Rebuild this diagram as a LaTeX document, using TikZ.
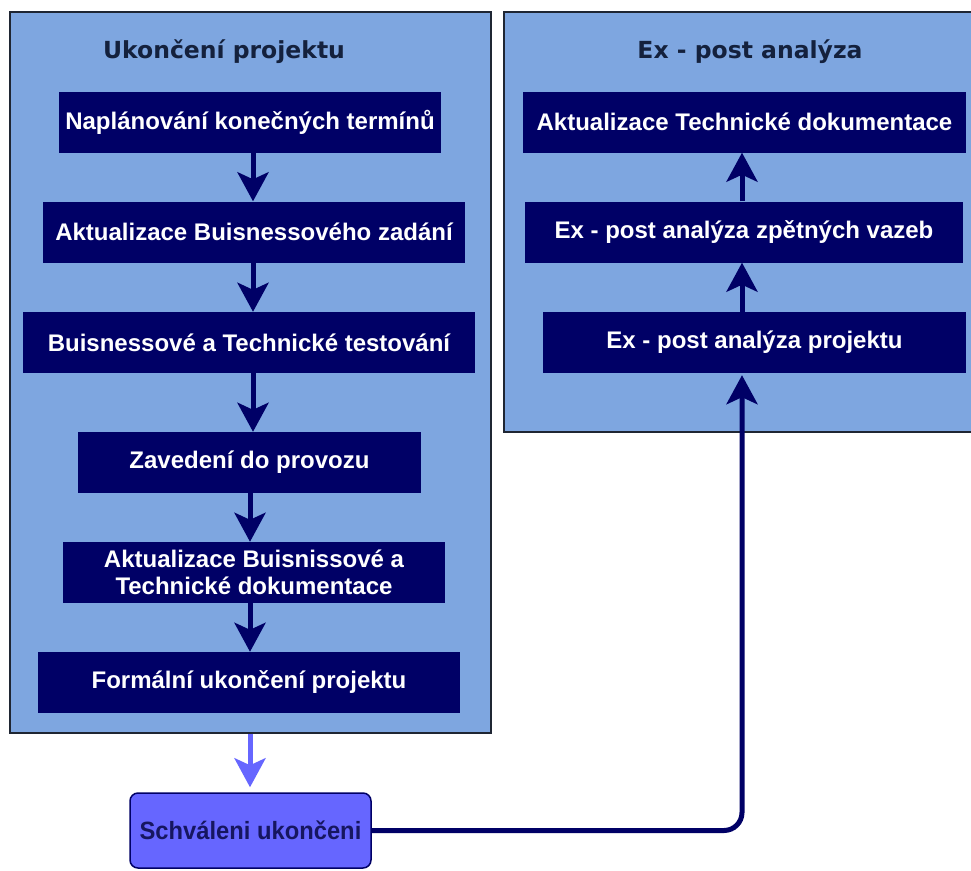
\documentclass[tikz,border=0pt]{standalone}
\usepackage{fontspec}
\setmainfont{Liberation Sans}
\newfontfamily\titlefont{DejaVu Sans}
\usetikzlibrary{arrows.meta}

\definecolor{groupfill}{HTML}{7EA6E0}
\definecolor{groupline}{HTML}{1F2633}
\definecolor{stepfill}{HTML}{000066}
\definecolor{approvefill}{HTML}{6666FF}
\definecolor{approvetext}{HTML}{161660}
\definecolor{titletext}{HTML}{14213D}

\tikzset{
  group/.style={draw=groupline, fill=groupfill, line width=1.5pt, inner sep=0pt},
  grouptitle/.style={text=titletext, font=\titlefont\bfseries\fontsize{23.5}{28}\selectfont, inner sep=0pt},
  stepbox/.style={fill=stepfill, draw=none, inner sep=0pt, text=white, align=center,
    font=\bfseries\fontsize{24}{27}\selectfont, minimum height=61pt},
  approvebox/.style={fill=approvefill, draw=stepfill, line width=1.5pt, rounded corners=8pt,
    inner sep=0pt, text=approvetext, font=\bfseries\fontsize{25}{30}\selectfont,
    minimum width=241pt, minimum height=75pt},
  flow/.style={draw=stepfill, line width=5pt, -{Stealth[length=29pt,width=31pt,inset=7pt]}},
  handoff/.style={draw=approvefill, line width=5pt, -{Stealth[length=29pt,width=31pt,inset=7pt]}},
}

\begin{document}
\begin{tikzpicture}[x=1pt, y=-1pt]
\useasboundingbox (0,0) rectangle (971,870);
\clip (0,0) rectangle (971,870);
\fill[white] (0,0) rectangle (971,870);

% containers
\node[group, minimum width=481pt, minimum height=721pt] (lg) at (250.5,372.5) {};
\node[group, minimum width=476pt, minimum height=420pt] (rg) at (742,222) {};

\node[grouptitle] (lt) at (224,52) {Ukončení projektu};
\node[grouptitle] (rt) at (750,52) {Ex - post analýza};

% left column: project closure steps
\node[stepbox, minimum width=382pt] (b1) at (250,122) {Naplánování konečných termínů};
\node[stepbox, minimum width=422pt] (b2) at (254,232) {Aktualizace Buisnessového zadání};
\node[stepbox, minimum width=452pt] (b3) at (249,342.5) {Buisnessové a Technické testování};
\node[stepbox, minimum width=343pt] (b4) at (249.5,462.5) {Zavedení do provozu};
\node[stepbox, minimum width=382pt] (b5) at (254,572.5) {Aktualizace Buisnissové a\\Technické dokumentace};
\node[stepbox, minimum width=422pt] (b6) at (249,682.5) {Formální ukončení projektu};

% right column: ex-post analysis steps
\node[stepbox, minimum width=443pt] (r1) at (744.5,122) {Aktualizace Technické dokumentace};
\node[stepbox, minimum width=438pt] (r2) at (744,232) {Ex - post analýza zpětných vazeb};
\node[stepbox, minimum width=423pt] (r3) at (754.5,342.5) {Ex - post analýza projektu};

% approval
\node[approvebox] (sch) at (250.5,830.5) {\scalebox{0.95}[1]{Schváleni ukončeni}};

% arrow columns
\coordinate (colA) at (253,0);
\coordinate (colB) at (250,0);
\coordinate (colR) at (742,0);

\draw[flow] (b1.south -| colA) -- (b2.north -| colA);
\draw[flow] (b2.south -| colA) -- (b3.north -| colA);
\draw[flow] (b3.south -| colA) -- (b4.north -| colA);
\draw[flow] (b4.south -| colB) -- (b5.north -| colB);
\draw[flow] (b5.south -| colB) -- (b6.north -| colB);

\draw[flow] (r3.north -| colR) -- (r2.south -| colR);
\draw[flow] (r2.north -| colR) -- (r1.south -| colR);

\draw[handoff, shorten >=5pt] (lg.south -| colB) -- (sch.north -| colB);
\draw[flow, rounded corners=18pt] (sch.east) -- (sch.east -| colR) -- ([yshift=-2pt]r3.south -| colR);
\end{tikzpicture}
\end{document}
